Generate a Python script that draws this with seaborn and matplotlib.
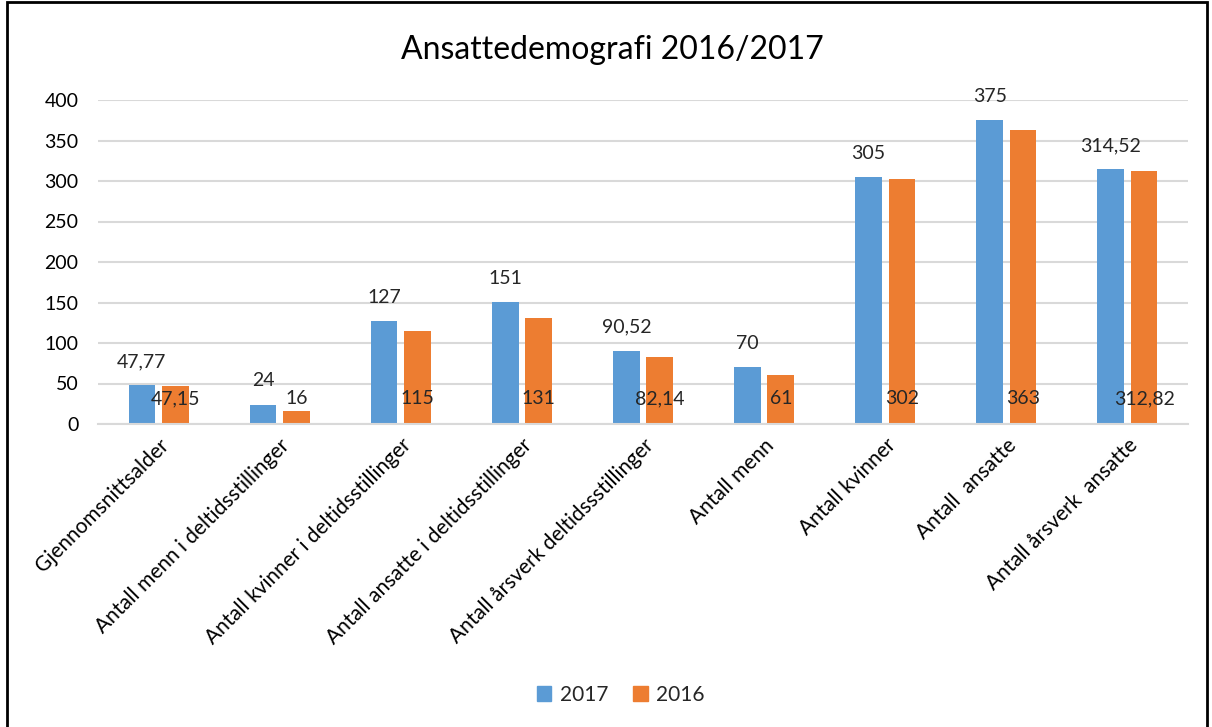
import matplotlib
matplotlib.use("Agg")
import matplotlib.pyplot as plt
import seaborn as sns
import pandas as pd
from matplotlib.patches import Rectangle

categories = ["Gjennomsnittsalder", "Antall menn i deltidsstillinger",
              "Antall kvinner i deltidsstillinger", "Antall ansatte i deltidsstillinger",
              "Antall årsverk deltidssstillinger", "Antall menn", "Antall kvinner",
              "Antall  ansatte", "Antall årsverk  ansatte"]
values_2017 = [47.77, 24, 127, 151, 90.52, 70, 305, 375, 314.52]
values_2016 = [47.15, 16, 115, 131, 82.14, 61, 302, 363, 312.82]
series = ["2017", "2016"]
yticks = [0, 50, 100, 150, 200, 250, 300, 350, 400]

def fmt(v):
    s = f"{v:.2f}".rstrip("0").rstrip(".")
    return s.replace(".", ",")

df = pd.DataFrame({
    "cat": categories * 2,
    "year": [series[0]] * len(categories) + [series[1]] * len(categories),
    "val": values_2017 + values_2016,
})

sns.set_theme(style="white")
plt.rcParams["font.family"] = ["Lato", "DejaVu Sans"]

fig = plt.figure(figsize=(12.12, 7.27), dpi=100)
ax = fig.add_axes([98/1212, 1-424/727, (1188-98)/1212, (424-100)/727])

colors = {"2017": "#5B9BD5", "2016": "#ED7D31"}
sns.barplot(data=df, x="cat", y="val", hue="year", hue_order=series, palette=colors,
            width=0.55, gap=0.2, ax=ax, legend=False, saturation=1, edgecolor="none")

ax.set_ylim(0, 400)
ax.set_xlim(-0.5, len(categories) - 0.5)
ax.set_yticks(yticks)
ax.set_yticklabels([str(t) for t in yticks], fontsize=14, color="#000000")
ax.yaxis.grid(True, color="#D9D9D9", linewidth=1.5)
ax.set_axisbelow(True)
for s in ["top", "right", "left"]:
    ax.spines[s].set_visible(False)
ax.spines["bottom"].set_color("#D9D9D9")
ax.spines["bottom"].set_linewidth(1.5)
ax.tick_params(axis="y", length=0, pad=14)
ax.tick_params(axis="x", length=0, pad=8)
ax.set_xlabel("")
ax.set_ylabel("")

ax.set_xticks(range(len(categories)))
ax.set_xticklabels(categories, rotation=45, ha="right", rotation_mode="anchor",
                   fontsize=15, color="#000000")

# data labels
cont17, cont16 = ax.containers[0], ax.containers[1]
for bar, v in zip(cont17, values_2017):
    ax.annotate(fmt(v), (bar.get_x() + bar.get_width()/2, v), xytext=(0, 17),
                textcoords="offset points", ha="center", va="center", fontsize=14)
for bar, v in zip(cont16, values_2016):
    ax.annotate(fmt(v), (bar.get_x() + bar.get_width()/2, 0), xytext=(0, 18),
                textcoords="offset points", ha="center", va="center", fontsize=14)

fig.text(0.505, 1-50/727, "Ansattedemografi 2016/2017", ha="center", va="center",
         fontsize=23, color="#000000")

handles = [Rectangle((0, 0), 1, 1, color=colors[s]) for s in series]
fig.legend(handles, series, loc="center", bbox_to_anchor=(0.512, 1-695/727), ncol=2,
           frameon=False, fontsize=15, handlelength=0.7, handleheight=0.7,
           columnspacing=1.2, handletextpad=0.4)

fig.patches.append(Rectangle((7/1212, -0.05), (1207-7)/1212, 1.05 - 2/727, transform=fig.transFigure,
                             fill=False, edgecolor="#000000", linewidth=2))

fig.savefig("out.png", dpi=100)
